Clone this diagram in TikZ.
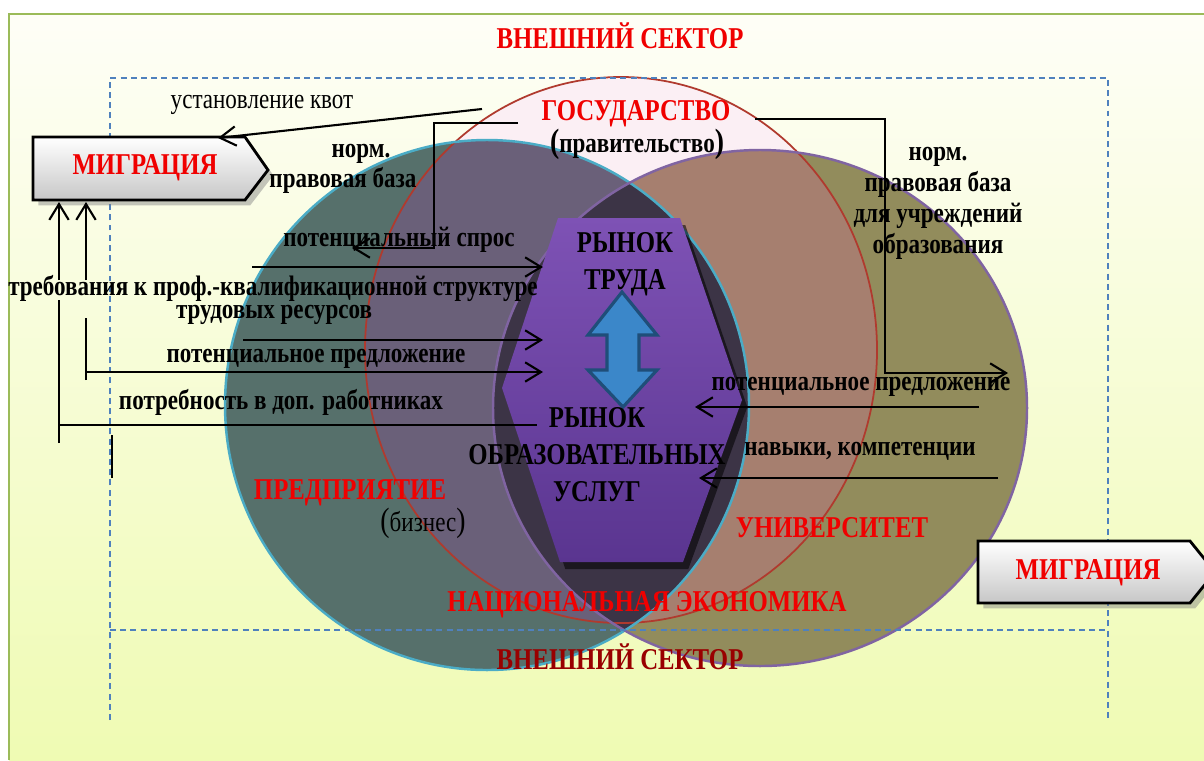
\documentclass[tikz,border=0pt]{standalone}
\usepackage{fontspec}
\setmainfont{Liberation Serif}
\newfontfamily\narrowfont[FakeStretch=0.82]{Liberation Serif}
\usepackage{tikz}
\usetikzlibrary{arrows.meta,shadows}
\definecolor{framegreen}{HTML}{9BBB59}
\definecolor{sectorblue}{HTML}{4F81BD}
\definecolor{pagetop}{HTML}{FEFEF7}
\definecolor{pagemid}{HTML}{FBFDE2}
\definecolor{pagebot}{HTML}{EFFBB3}
\definecolor{govpink}{HTML}{FBEFF4}
\definecolor{govred}{HTML}{B03A2E}
\definecolor{bizteal}{HTML}{56706B}
\definecolor{bizline}{HTML}{4BACC6}
\definecolor{uniolive}{HTML}{928C5C}
\definecolor{uniline}{HTML}{8064A2}
\definecolor{bizgov}{HTML}{6A6079}
\definecolor{unigov}{HTML}{A67F6F}
\definecolor{lensdark}{HTML}{3C3446}
\definecolor{hextop}{HTML}{7E52B5}
\definecolor{hexbot}{HTML}{5A3590}
\definecolor{arrowblue}{HTML}{3B87C9}
\definecolor{arrownavy}{HTML}{1F4E79}
\definecolor{labelred}{HTML}{F00000}

\begin{document}
\begin{tikzpicture}[x=0.01cm, y=-0.01cm,
    redlbl/.style={text=labelred, font=\narrowfont\bfseries\fontsize{8.6}{9}\selectfont, inner sep=0pt},
    txt/.style={font=\narrowfont\bfseries\fontsize{8}{8.8}\selectfont, inner sep=0pt, align=center},
    plaintxt/.style={font=\narrowfont\fontsize{8}{8.8}\selectfont, inner sep=0pt},
    mkt/.style={font=\narrowfont\bfseries\fontsize{8.6}{10.5}\selectfont, inner sep=0pt, align=center},
    flow/.style={line width=0.6pt, -{Straight Barb[length=4.5pt,width=5.5pt]}},
    link/.style={line width=0.6pt},
    bound/.style={draw=sectorblue, line width=0.6pt, dash pattern=on 1.7pt off 1.2pt},
    migbox/.style={draw=black, line width=0.8pt, top color=white, bottom color=black!22,
        drop shadow={shadow xshift=1.5pt, shadow yshift=-1.5pt, opacity=0.45}}
]
    \clip (0,0) rectangle (1204,760);
    % Page and frame
    \fill[white] (0,0) rectangle (1204,760);
    \shade[top color=pagetop, middle color=pagemid, bottom color=pagebot] (9,14) rectangle (1204,760);
    \draw[framegreen, line width=0.6pt] (9,760) -- (9,14) -- (1204,14);

    % Three sectors
    \fill[govpink] (621,350) ellipse [x radius=256, y radius=273];
    \fill[bizteal] (487,405) ellipse [x radius=262, y radius=265];
    \fill[uniolive] (760,408) ellipse [x radius=267, y radius=258];
    \begin{scope}
        \clip (621,350) ellipse [x radius=256, y radius=273];
        \fill[bizgov] (487,405) ellipse [x radius=262, y radius=265];
        \fill[unigov] (760,408) ellipse [x radius=267, y radius=258];
    \end{scope}
    \begin{scope}
        \clip (487,405) ellipse [x radius=262, y radius=265];
        \fill[lensdark] (760,408) ellipse [x radius=267, y radius=258];
    \end{scope}
    \draw[govred, line width=0.5pt] (621,350) ellipse [x radius=256, y radius=273];
    \draw[bizline, line width=0.7pt] (487,405) ellipse [x radius=262, y radius=265];
    \draw[uniline, line width=0.7pt] (760,408) ellipse [x radius=267, y radius=258];

    % Markets (hexagon) and the link between them
    \path[top color=hextop, bottom color=hexbot,
        drop shadow={shadow xshift=1.5pt, shadow yshift=-2pt, fill=black, opacity=0.55}]
        (558,218) -- (680,218) -- (742,400) -- (683,562) -- (560,562) -- (502,388) -- cycle;
    \draw[arrownavy, fill=arrowblue, line width=0.9pt, line join=miter]
        (622,292) -- (657,335) -- (639,335) -- (639,370) -- (657,370) -- (623,407)
        -- (588,370) -- (607,370) -- (607,335) -- (588,335) -- cycle;

    % National economy boundary
    \draw[bound] (110,720) -- (110,78) -- (1108,78) -- (1108,720);
    \draw[bound] (110,630) -- (1108,630);
    \draw[line width=0.8pt] (112,435) -- (112,478);

    % Migration boxes
    \path[migbox] (33,137) -- (245,137) -- (268,170) -- (245,200) -- (33,200) -- cycle;
    \path[migbox] (978,541) -- (1190,541) -- (1215,572) -- (1190,603) -- (978,603) -- cycle;
    \node[redlbl] (migl) at (145,168) {МИГРАЦИЯ};
    \node[redlbl] (migr) at (1088,573) {МИГРАЦИЯ};

    % Sector labels
    \node[redlbl] (outtop) at (620,36) {ВНЕШНИЙ СЕКТОР};
    \node[redlbl] (gov) at (636,114) {ГОСУДАРСТВО};
    \node[txt] (govsub) at (637,144) {{\fontsize{9.6}{10}\selectfont(}правительство{\fontsize{9.6}{10}\selectfont)}};
    \node[redlbl] (biz) at (350,493) {ПРЕДПРИЯТИЕ};
    \node[plaintxt] (bizsub) at (423,523) {{\fontsize{9.6}{10}\selectfont(}бизнес{\fontsize{9.6}{10}\selectfont)}};
    \node[redlbl] (uni) at (832,528) {УНИВЕРСИТЕТ};
    \node[redlbl] (natec) at (647,605) {НАЦИОНАЛЬНАЯ ЭКОНОМИКА};
    \node[redlbl, text=red!60!black] (outbot) at (620,657) {ВНЕШНИЙ СЕКТОР};
    \node[mkt] (labour) at (625,264) {РЫНОК\\ТРУДА};
    \node[mkt] (educ) at (597,455) {РЫНОК\\ОБРАЗОВАТЕЛЬНЫХ\\УСЛУГ};

    % Flow labels
    \node[plaintxt] (kvota) at (262,105) {установление квот};
    \node[txt] (norm1) at (361,154) {норм.};
    \node[txt] (norm2) at (343,180) {правовая база};
    \node[txt] (normuni) at (938,203) {норм.\\правовая база\\для учреждений\\образования};
    \node[txt] (spros) at (399,240) {потенциальный спрос};
    \node[txt] (treb) at (273,288) {требования к проф.-квалификационной структуре};
    \node[txt] (resurs) at (274,315) {трудовых ресурсов};
    \node[txt] (predl) at (316,359) {потенциальное предложение};
    \node[txt] (potreb) at (281,402) {потребность в доп. работниках};
    \node[txt] (predluni) at (861,387) {потенциальное предложение};
    \node[txt] (navyki) at (860,451) {навыки, компетенции};

    % Connector ends
    \coordinate (kv-a) at (482,109);
    \coordinate (kv-b) at (218,138);
    \coordinate (gl-a) at (518,123);
    \coordinate (gl-b) at (434,123);
    \coordinate (gl-c) at (434,248);
    \coordinate (gl-d) at (352,248);
    \coordinate (sp-a) at (252,267);
    \coordinate (sp-b) at (543,267);
    \coordinate (rs-a) at (243,340);
    \coordinate (rs-b) at (543,340);
    \coordinate (pr-a) at (86,372);
    \coordinate (pr-b) at (543,372);
    \coordinate (pr-low) at (86,380);
    \coordinate (pr-gap1) at (86,318);
    \coordinate (pr-gap2) at (86,280);
    \coordinate (pr-top) at (86,202);
    \coordinate (pt-a) at (59,425);
    \coordinate (pt-b) at (537,425);
    \coordinate (pt-low) at (59,443);
    \coordinate (pt-gap1) at (59,300);
    \coordinate (pt-gap2) at (59,280);
    \coordinate (pt-top) at (59,202);
    \coordinate (gr-a) at (755,119);
    \coordinate (gr-b) at (885,119);
    \coordinate (gr-c) at (885,373);
    \coordinate (gr-d) at (1008,373);
    \coordinate (pu-a) at (979,407);
    \coordinate (pu-b) at (695,407);
    \coordinate (nv-a) at (998,478);
    \coordinate (nv-b) at (699,478);

    % Flows
    \draw[flow] (kv-a) -- (kv-b);
    \draw[flow] (gl-a) -- (gl-b) -- (gl-c) -- (gl-d);
    \draw[flow] (sp-a) -- (sp-b);
    \draw[flow] (rs-a) -- (rs-b);
    \draw[flow] (pr-a) -- (pr-b);
    \draw[link] (pr-low) -- (pr-gap1);
    \draw[flow] (pr-gap2) -- (pr-top);
    \draw[link] (pt-a) -- (pt-b);
    \draw[link] (pt-low) -- (pt-gap1);
    \draw[flow] (pt-gap2) -- (pt-top);
    \draw[flow] (gr-a) -- (gr-b) -- (gr-c) -- (gr-d);
    \draw[flow] (pu-a) -- (pu-b);
    \draw[flow] (nv-a) -- (nv-b);
\end{tikzpicture}
\end{document}
